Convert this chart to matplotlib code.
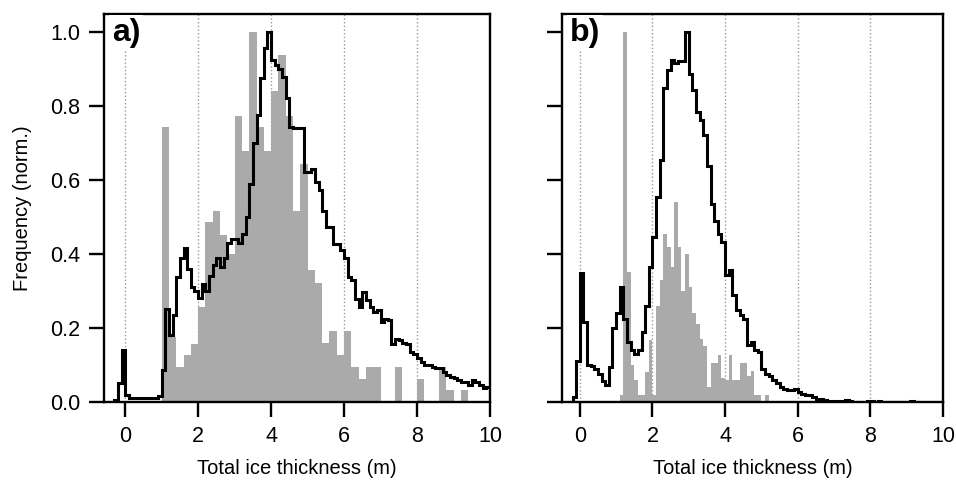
"""
Ice thickness distributions: two panels (a, b), each with a grey
histogram and a black step line, both normalised to their maximum.
"""

import numpy as np
import matplotlib
matplotlib.use("Agg")
import matplotlib.pyplot as plt

plt.rcParams['font.family'] = ['Liberation Sans', 'DejaVu Sans']

# ---- panel a ---------------------------------------------------------
# grey histogram, 0.2 m bins starting at 1.0 m
a_bar_start = 1.0
a_bar_width = 0.2
a_bar_vals = [
    0.742, 0.176, 0.095, 0.127, 0.158, 0.257, 0.485, 0.516, 0.452, 0.400,
    0.773, 0.677, 1.000, 0.742, 0.677, 0.840, 0.937, 0.773, 0.516, 0.644,
    0.356, 0.322, 0.160, 0.191, 0.128, 0.191, 0.095, 0.063, 0.095, 0.095,
    0.000, 0.000, 0.095, 0.000, 0.000, 0.063, 0.000, 0.000, 0.095, 0.032,
    0.000, 0.032,
]
# black step line, 0.1 m bins starting at -0.3 m
a_line_start = -0.3
a_line_width = 0.1
a_line_vals = [
    0.005, 0.050, 0.140, 0.020, 0.010, 0.010, 0.010, 0.010, 0.010, 0.010,
    0.012, 0.012, 0.015, 0.086, 0.252, 0.180, 0.234, 0.338, 0.388, 0.416,
    0.360, 0.311, 0.300, 0.280, 0.320, 0.300, 0.340, 0.370, 0.390, 0.365,
    0.390, 0.430, 0.440, 0.440, 0.430, 0.455, 0.500, 0.590, 0.700, 0.775,
    0.874, 0.955, 1.000, 0.923, 0.910, 0.900, 0.878, 0.820, 0.743, 0.740,
    0.740, 0.740, 0.620, 0.620, 0.630, 0.595, 0.573, 0.515, 0.473, 0.473,
    0.428, 0.428, 0.410, 0.388, 0.338, 0.329, 0.279, 0.257, 0.298, 0.275,
    0.257, 0.244, 0.248, 0.217, 0.225, 0.221, 0.158, 0.171, 0.167, 0.160,
    0.158, 0.136, 0.130, 0.118, 0.109, 0.100, 0.100, 0.095, 0.091, 0.091,
    0.082, 0.073, 0.068, 0.064, 0.059, 0.055, 0.055, 0.046, 0.059, 0.055,
    0.046, 0.037, 0.041,
]

# ---- panel b ---------------------------------------------------------
# grey histogram, 0.1 m bins starting at 1.1 m
b_bar_start = 1.1
b_bar_width = 0.1
b_bar_vals = [
    0.020, 1.000, 0.350, 0.100, 0.060, 0.020, 0.020, 0.080, 0.167, 0.020,
    0.260, 0.330, 0.455, 0.420, 0.365, 0.540, 0.420, 0.300, 0.400, 0.310,
    0.240, 0.210, 0.170, 0.150, 0.040, 0.104, 0.104, 0.127, 0.065, 0.059,
    0.127, 0.059, 0.059, 0.104, 0.104, 0.070, 0.085, 0.020, 0.020, 0.000,
    0.020,
]
# black step line, 0.1 m bins starting at -0.3 m
b_line_start = -0.3
b_line_width = 0.1
b_line_vals = [
    0.000, 0.013, 0.111, 0.349, 0.216, 0.099, 0.097, 0.090, 0.075, 0.058,
    0.045, 0.095, 0.200, 0.240, 0.311, 0.225, 0.162, 0.140, 0.130, 0.140,
    0.190, 0.260, 0.365, 0.446, 0.554, 0.653, 0.847, 0.896, 0.925, 0.915,
    0.920, 0.920, 1.000, 0.887, 0.842, 0.784, 0.762, 0.720, 0.638, 0.536,
    0.490, 0.455, 0.432, 0.342, 0.356, 0.288, 0.248, 0.234, 0.225, 0.155,
    0.162, 0.140, 0.135, 0.090, 0.076, 0.070, 0.059, 0.050, 0.040, 0.036,
    0.032, 0.032, 0.036, 0.027, 0.022, 0.018, 0.018, 0.013, 0.009, 0.009,
    0.006, 0.004, 0.004, 0.003, 0.004, 0.002, 0.006, 0.002, 0.001, 0.000,
    0.000, 0.000, 0.002, 0.003, 0.000, 0.003, 0.000, 0.000, 0.000, 0.000,
    0.000, 0.000, 0.000, 0.000, 0.003, 0.000,
]

x_ticks = [0, 2, 4, 6, 8, 10]
y_ticks = [0.0, 0.2, 0.4, 0.6, 0.8, 1.0]

BAR_COLOR = '#aaaaaa'
TICK_SIZE = 15.5
LABEL_SIZE = 14.5


def edges(start, width, n):
    return np.round(start + width * np.arange(n + 1), 3)


def draw_panel(ax, bar_vals, bar_start, bar_width, line_vals, line_start,
               line_width, xlim, tag, show_ylabels):
    bar_x = edges(bar_start, bar_width, len(bar_vals))[:-1]
    ax.bar(bar_x, bar_vals, width=bar_width, align='edge',
           color=BAR_COLOR, linewidth=0, zorder=2)
    ax.stairs(line_vals, edges(line_start, line_width, len(line_vals)),
              color='black', linewidth=2.2, zorder=3)

    ax.set_xlim(*xlim)
    ax.set_ylim(0, 1.048)
    ax.set_xticks(x_ticks)
    ax.set_yticks(y_ticks)
    ax.set_yticklabels([f'{t:.1f}' for t in y_ticks] if show_ylabels else [])
    ax.grid(axis='x', linestyle=':', color='#999999', linewidth=1.0)
    ax.set_axisbelow(True)
    for sp in ax.spines.values():
        sp.set_linewidth(1.7)
    ax.tick_params(direction='out', length=11, width=1.7, pad=6,
                   labelsize=TICK_SIZE)
    ax.set_xlabel('Total ice thickness (m)', fontsize=LABEL_SIZE, labelpad=9)
    ax.text(0.02, 0.99, tag, transform=ax.transAxes, ha='left', va='top',
            fontsize=23, fontweight='bold', zorder=5,
            bbox=dict(facecolor='white', edgecolor='none', pad=2))


fig = plt.figure(figsize=(9.56, 4.82), dpi=100)
ax_a = fig.add_axes([104 / 956, 80 / 482, 386 / 956, 388 / 482])
ax_b = fig.add_axes([562 / 956, 80 / 482, 381 / 956, 388 / 482])

draw_panel(ax_a, a_bar_vals, a_bar_start, a_bar_width, a_line_vals,
           a_line_start, a_line_width, (-0.58, 10.0), 'a)', True)
draw_panel(ax_b, b_bar_vals, b_bar_start, b_bar_width, b_line_vals,
           b_line_start, b_line_width, (-0.49, 10.0), 'b)', False)
ax_a.set_ylabel('Frequency (norm.)', fontsize=LABEL_SIZE, labelpad=13)

fig.savefig('out.png', dpi=100)
